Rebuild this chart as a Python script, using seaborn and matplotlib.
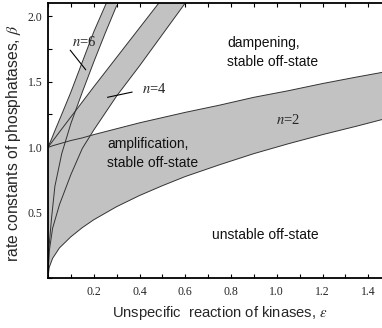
import numpy as np
import pandas as pd
import matplotlib
matplotlib.use("Agg")
import matplotlib.pyplot as plt
from matplotlib.ticker import MultipleLocator
import seaborn as sns

# boundary curves (epsilon -> beta)
eps2 = [0, 0.005, 0.02, 0.05, 0.1, 0.15, 0.2, 0.3, 0.4, 0.5, 0.6, 0.75, 0.9, 1.05, 1.2, 1.35, 1.46]
lower2 = [0.0, 0.08, 0.15, 0.23, 0.315, 0.385, 0.445, 0.545, 0.63, 0.705, 0.775, 0.865, 0.95, 1.025, 1.095, 1.16, 1.21]
upper2 = [1.0, 1.0, 1.01, 1.025, 1.05, 1.07, 1.095, 1.14, 1.185, 1.225, 1.265, 1.32, 1.38, 1.43, 1.485, 1.535, 1.57]

eps4 = [0, 0.005, 0.02, 0.05, 0.1, 0.15, 0.2, 0.3, 0.4, 0.5, 0.6]
lower4 = [0.0, 0.2, 0.38, 0.56, 0.79, 0.99, 1.13, 1.39, 1.62, 1.86, 2.1]
upper4 = [1.0, 1.01, 1.045, 1.115, 1.23, 1.345, 1.46, 1.685, 1.91, 2.135, 2.36]

eps6 = [0, 0.005, 0.015, 0.03, 0.06, 0.1, 0.15, 0.2, 0.25, 0.3]
lower6 = [0.0, 0.25, 0.45, 0.7, 0.95, 1.18, 1.42, 1.65, 1.87, 2.08]
upper6 = [1.0, 1.02, 1.06, 1.125, 1.25, 1.42, 1.65, 1.88, 2.08, 2.28]

bands = {"2": (eps2, lower2, upper2), "4": (eps4, lower4, upper4), "6": (eps6, lower6, upper6)}

sns.set_theme(style="white")
plt.rcParams["font.family"] = ["Liberation Sans", "DejaVu Sans"]
plt.rcParams["mathtext.fontset"] = "stix"

grey = "#c2c2c2"
edge = "#333333"

fig = plt.figure(figsize=(3.82, 3.28), dpi=100)
ax = fig.add_axes([0.1257, 0.1524, 0.8743, 0.8384])

for n, (e, lo, up) in bands.items():
    e = np.array(e)
    xs = np.concatenate([e, e[::-1]])
    ys = np.concatenate([np.array(up), np.array(lo)[::-1]])
    ax.fill(xs, ys, color=grey, lw=0, zorder=1)

for n, (e, lo, up) in bands.items():
    df = pd.DataFrame({"eps": e, "lo": lo, "up": up})
    sns.lineplot(data=df, x="eps", y="lo", ax=ax, color=edge, lw=0.7, sort=False, zorder=2)
    sns.lineplot(data=df, x="eps", y="up", ax=ax, color=edge, lw=0.7, sort=False, zorder=2)

ax.set_xlim(0, 1.46)
ax.set_ylim(0, 2.1)
ax.xaxis.set_minor_locator(MultipleLocator(0.1))
ax.yaxis.set_minor_locator(MultipleLocator(0.25))
ax.set_xticks([0.2, 0.4, 0.6, 0.8, 1.0, 1.2, 1.4])
ax.set_yticks([0.5, 1.0, 1.5, 2.0])
ax.tick_params(which="both", direction="in", top=True, bottom=True, left=True, right=False,
               length=3, width=0.8, color="black")
ax.tick_params(axis="x", pad=6)
ax.tick_params(axis="y", pad=4)
for lab in ax.get_xticklabels() + ax.get_yticklabels():
    lab.set_family("Liberation Serif")
    lab.set_fontsize(8.5)

for side in ["left", "bottom", "top"]:
    ax.spines[side].set_visible(True)
    ax.spines[side].set_color("black")
    ax.spines[side].set_linewidth(1.3)
ax.spines["right"].set_visible(False)

ax.set_xlabel(r"Unspecific  reaction of kinases, $\varepsilon$", fontsize=10.6)
ax.set_ylabel(r"rate constants of phosphatases, $\beta$", fontsize=11.3)
ax.xaxis.set_label_coords(0.513, -0.127)
ax.xaxis.label.set_va("center")
ax.yaxis.set_label_coords(-0.102, 0.49)
ax.yaxis.label.set_va("center")

ax.text(0.783, 1.85, "dampening,\nstable off-state", fontsize=10, va="top", ha="left",
        linespacing=1.45, color="#111111")
ax.text(0.26, 1.08, "amplification,\nstable off-state", fontsize=10, va="top", ha="left",
        linespacing=1.45, color="#111111")
ax.text(0.716, 0.33, "unstable off-state", fontsize=10, va="center", ha="left", color="#111111")

ax.text(1.05, 1.21, "$n$=2", fontsize=10.5, ha="center", va="center", family="Liberation Serif")
ax.text(0.465, 1.44, "$n$=4", fontsize=10.5, ha="center", va="center", family="Liberation Serif")
ax.text(0.16, 1.80, "$n$=6", fontsize=10.5, ha="center", va="center", family="Liberation Serif")
ax.plot([0.26, 0.368], [1.38, 1.42], color="black", lw=0.8, zorder=3)
ax.plot([0.097, 0.165], [1.74, 1.59], color="black", lw=0.8, zorder=3)

fig.savefig("out.png", dpi=100)
